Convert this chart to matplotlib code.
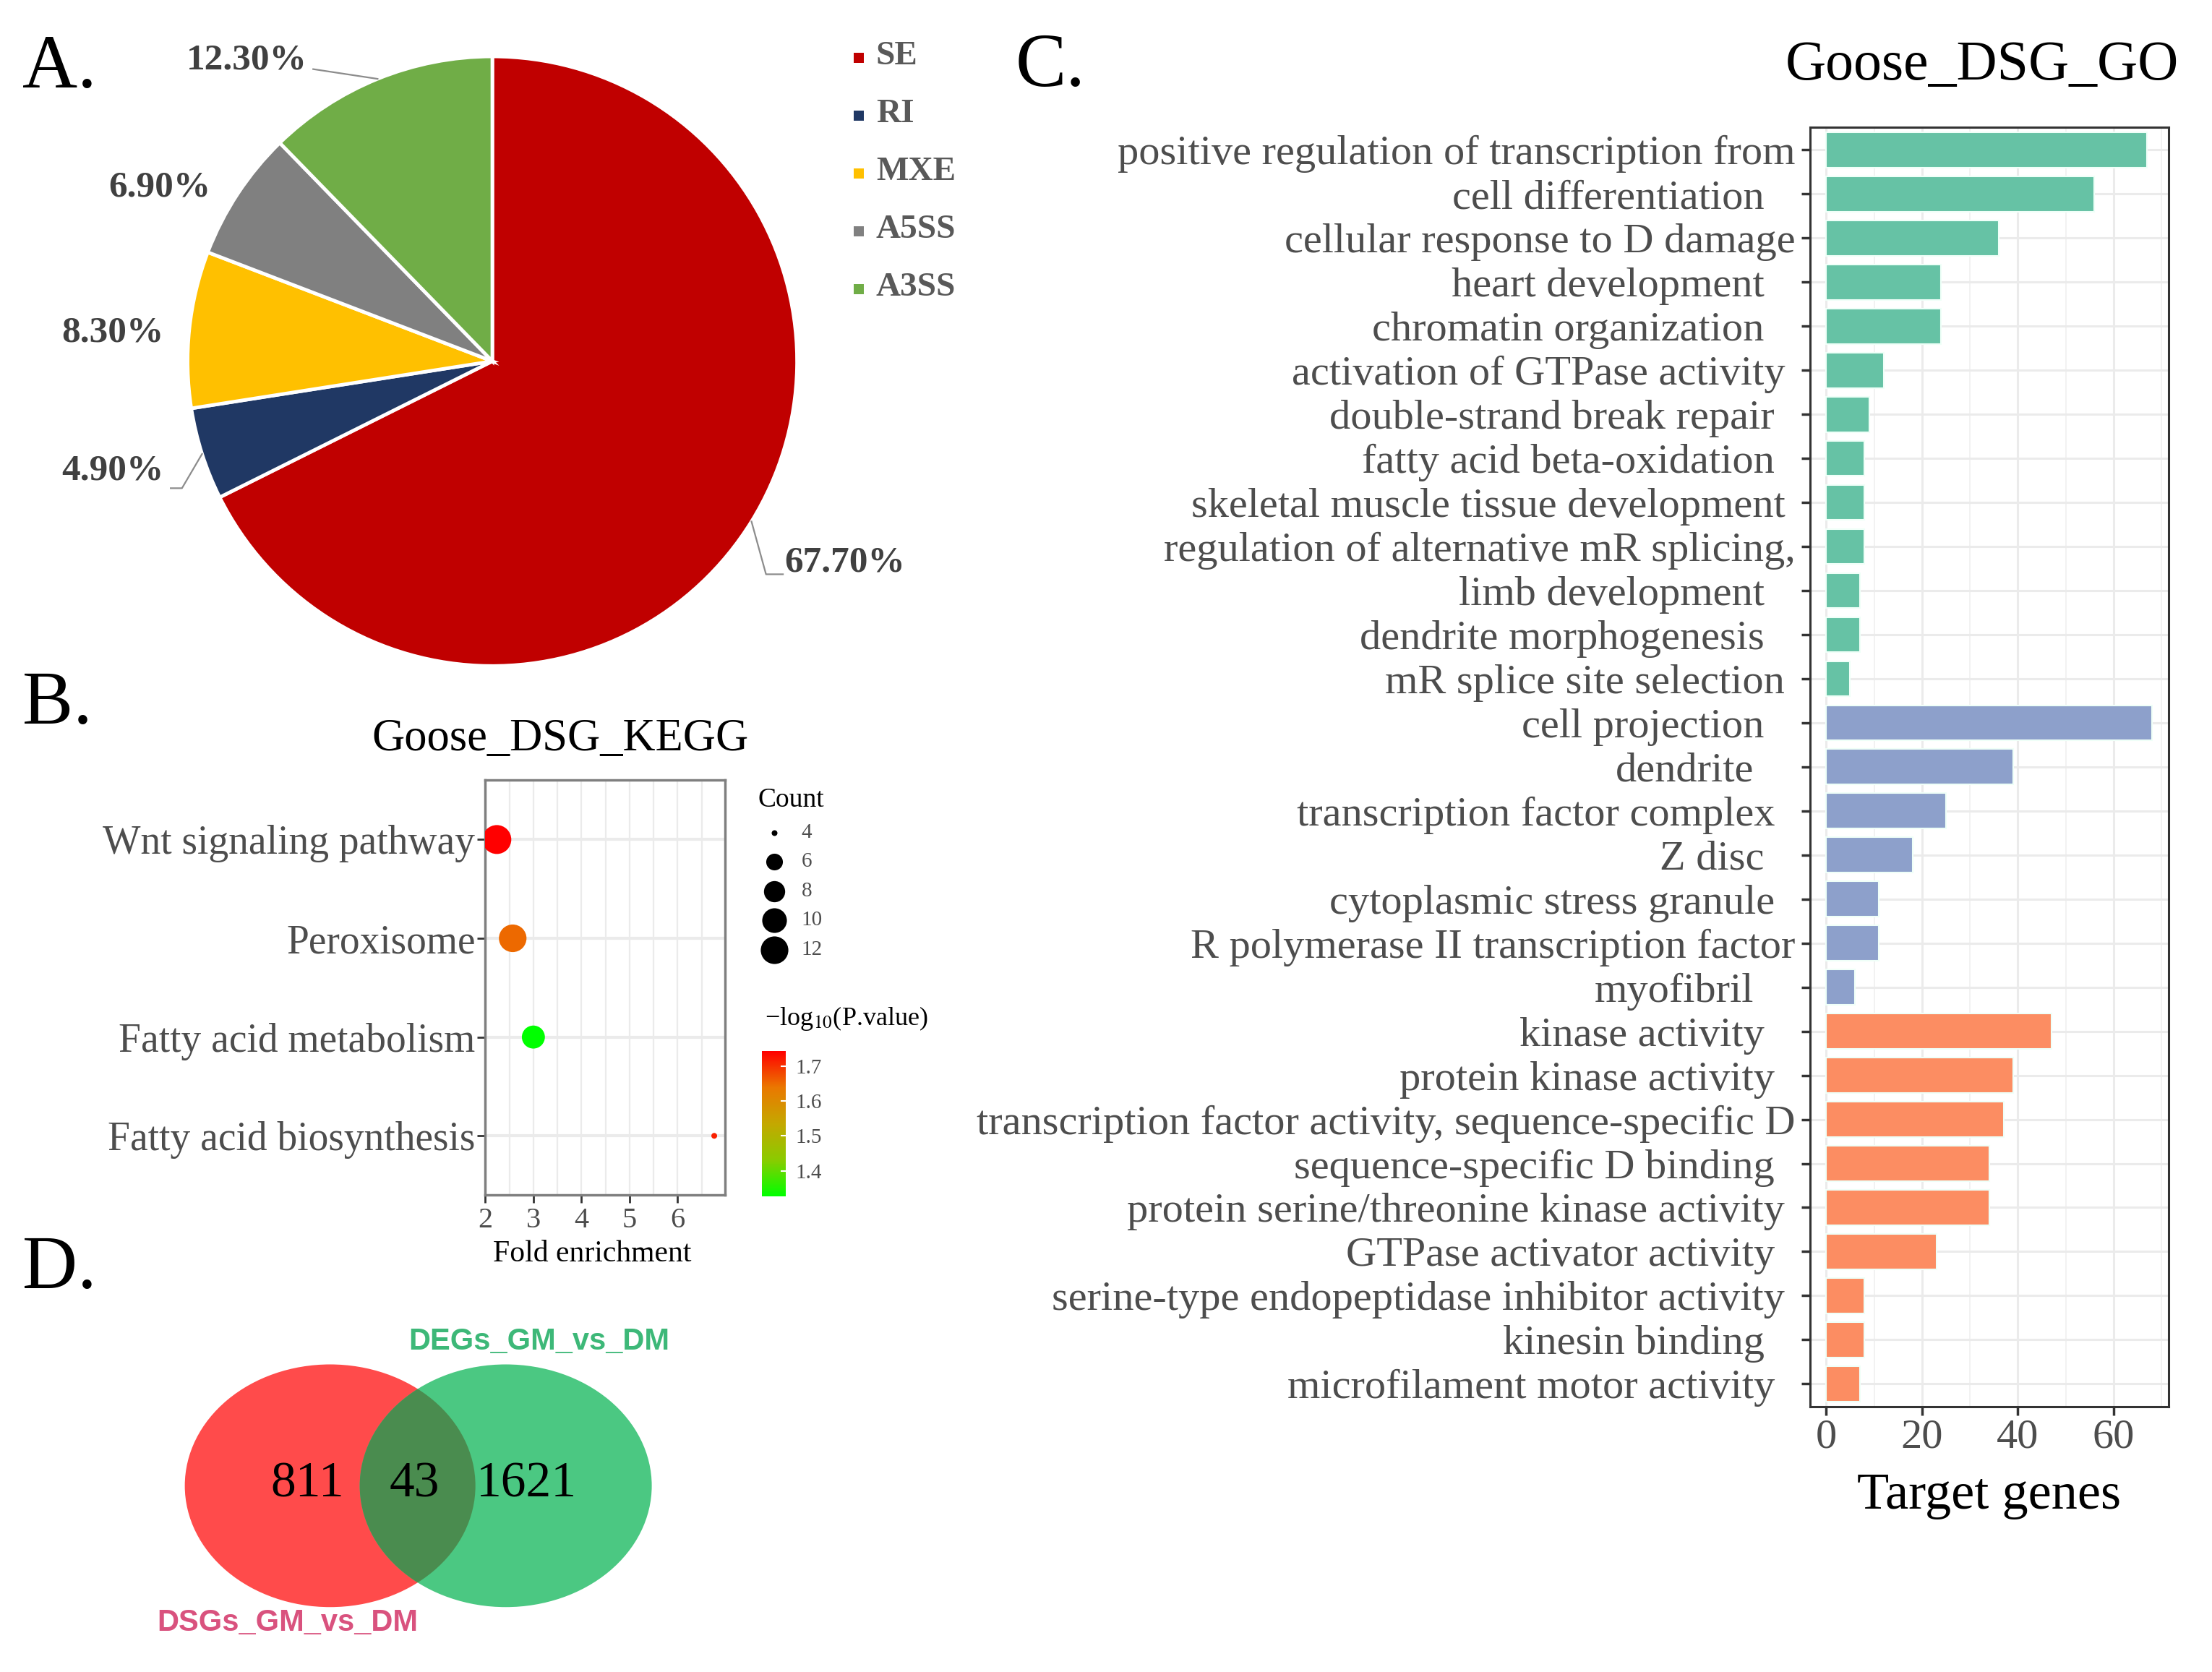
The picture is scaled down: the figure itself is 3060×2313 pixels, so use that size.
import numpy as np
import matplotlib
matplotlib.use("Agg")
import matplotlib.pyplot as plt
from matplotlib.colors import LinearSegmentedColormap
from matplotlib.patches import Ellipse
from matplotlib.ticker import MultipleLocator

# ---------------- data ----------------
splice_types = ["SE", "RI", "MXE", "A5SS", "A3SS"]
splice_pct = [67.7, 4.9, 8.3, 6.9, 12.3]

kegg_terms = ["Wnt signaling pathway", "Peroxisome", "Fatty acid metabolism",
              "Fatty acid biosynthesis"]
kegg_fold = [2.24, 2.57, 3.00, 6.76]
kegg_count = [13, 12, 9, 4]
kegg_logp = [1.742, 1.65, 1.327, 1.713]
count_breaks = [4, 6, 8, 10, 12]
logp_ticks = [1.4, 1.5, 1.6, 1.7]
fold_ticks = [2, 3, 4, 5, 6]

go_terms = [
    "positive regulation of transcription from",
    "cell differentiation",
    "cellular response to D damage",
    "heart development",
    "chromatin organization",
    "activation of GTPase activity",
    "double-strand break repair",
    "fatty acid beta-oxidation",
    "skeletal muscle tissue development",
    "regulation of alternative mR splicing,",
    "limb development",
    "dendrite morphogenesis",
    "mR splice site selection",
    "cell projection",
    "dendrite",
    "transcription factor complex",
    "Z disc",
    "cytoplasmic stress granule",
    "R polymerase II transcription factor",
    "myofibril",
    "kinase activity",
    "protein kinase activity",
    "transcription factor activity, sequence-specific D",
    "sequence-specific D binding",
    "protein serine/threonine kinase activity",
    "GTPase activator activity",
    "serine-type endopeptidase inhibitor activity",
    "kinesin binding",
    "microfilament motor activity",
]
go_counts = [67, 56, 36, 24, 24, 12, 9, 8, 8, 8, 7, 7, 5,
             68, 39, 25, 18, 11, 11, 6,
             47, 39, 37, 34, 34, 23, 8, 8, 7]
go_category = ["BP"] * 13 + ["CC"] * 7 + ["MF"] * 9
go_ticks = [0, 20, 40, 60]

venn_names = ["DSGs_GM_vs_DM", "DEGs_GM_vs_DM"]
venn_counts = [811, 43, 1621]  # only A, both, only B

# ---------------- style / layout ----------------
plt.rcParams["font.family"] = ["Liberation Serif", "DejaVu Serif"]
plt.rcParams["mathtext.fontset"] = "stix"

pie_colors = ["#C00000", "#203864", "#FFC000", "#808080", "#70AD47"]
go_colors = {"BP": "#66C2A5", "CC": "#8DA0CB", "MF": "#FC8D62"}
cmap = LinearSegmentedColormap.from_list(
    "gr", ["#00FF00", "#8ACB00", "#C4A800", "#EA7800", "#FF0000"])
# extra label offsets (in units of one blank) for panel C tick labels
go_label_pad = [0, 3, 0, 3, 3, 1, 2, 2, 1, 0, 3, 3, 1, 3, 4, 2, 3, 2, 0, 4,
                3, 2, 0, 2, 1, 2, 1, 3, 2]

W, H = 1568.0, 1185.0  # layout grid


def box(x0, y0, x1, y1):
    return [x0 / W, 1 - y1 / H, (x1 - x0) / W, (y1 - y0) / H]


fig = plt.figure(figsize=(30.6, 23.13), dpi=100)
ov = fig.add_axes([0, 0, 1, 1])
ov.set_xlim(0, W)
ov.set_ylim(H, 0)
ov.axis("off")
ov.set_zorder(10)

GRAY = "#4D4D4D"

# panel letters
for lab, (x, y) in zip(["A.", "B.", "C.", "D."],
                       [(16, 62), (16, 513), (720, 61), (16, 913)]):
    ov.text(x, y, lab, fontsize=76, ha="left", va="baseline", color="black")

# ---------------- Panel A: pie ----------------
cx, cy, R = 349, 256, 216
axp = fig.add_axes(box(cx - R, cy - R, cx + R, cy + R))
wedges, _ = axp.pie(splice_pct, colors=pie_colors, startangle=90,
                    counterclock=False,
                    wedgeprops=dict(edgecolor="white", linewidth=3.5))
axp.set_xlim(-1, 1)
axp.set_ylim(-1, 1)
axp.set_aspect("auto")

label_pos = {"SE": (599, 399), "RI": (80, 334), "MXE": (80, 236),
             "A5SS": (113, 133), "A3SS": (175, 43)}
for w, name, v in zip(wedges, splice_types, splice_pct):
    lx, ly = label_pos[name]
    ov.text(lx, ly, f"{v:.2f}%", fontsize=37, fontweight="bold",
            color="#404040", ha="center", va="center")
    mid = np.deg2rad((w.theta1 + w.theta2) / 2)
    ex, ey = cx + R * np.cos(mid), cy - R * np.sin(mid)
    if name == "A3SS":
        ov.plot([222, ex], [49, ey], color="#8C8C8C", lw=1.6)
    elif name == "RI":
        ov.plot([121, 129, ex], [346, 346, ey], color="#8C8C8C", lw=1.6)
    elif name == "SE":
        ov.plot([555, 543, ex], [407, 407, ey], color="#8C8C8C", lw=1.6)

for i, (name, col) in enumerate(zip(splice_types, pie_colors)):
    yy = 40 + 41 * i
    ov.scatter([609], [yy + 1], marker="s", s=90, color=col, linewidths=0)
    ov.text(621, yy, name, fontsize=34, fontweight="bold", color="#595959",
            ha="left", va="center")

# ---------------- Panel B: KEGG bubble ----------------
axb = fig.add_axes(box(344, 553, 514, 847))
cmin, cmax = min(kegg_count), max(kegg_count)
dmin, dmax = 8.0, 40.0  # marker diameters in pixels


def size_of(c):
    d = dmin + (dmax - dmin) * np.sqrt((np.asarray(c, float) - cmin) / (cmax - cmin))
    return (d * 0.72) ** 2


yb = np.arange(len(kegg_terms))
sc = axb.scatter(kegg_fold, yb, s=size_of(kegg_count), c=kegg_logp, cmap=cmap,
                 vmin=min(kegg_logp), vmax=max(kegg_logp), zorder=3,
                 edgecolors="none")
fr = max(kegg_fold) - min(kegg_fold)
axb.set_xlim(min(kegg_fold) - 0.05 * fr, max(kegg_fold) + 0.05 * fr)
axb.set_ylim(len(kegg_terms) - 1 + 0.6, -0.6)
axb.set_yticks(yb, kegg_terms)
axb.set_xticks(fold_ticks)
axb.xaxis.set_minor_locator(MultipleLocator(0.5))
axb.grid(which="both", axis="x", color="#EBEBEB", lw=1.6)
axb.grid(which="major", axis="y", color="#EBEBEB", lw=3)
axb.set_axisbelow(True)
for s in axb.spines.values():
    s.set_color("#7F7F7F")
    s.set_linewidth(2.5)
axb.tick_params(axis="y", labelsize=40, labelcolor=GRAY, length=8, width=2,
                color="#333333", pad=2)
axb.tick_params(axis="x", labelsize=29, labelcolor=GRAY, length=8, width=2,
                color="#333333", pad=4)
axb.tick_params(which="minor", length=0)
ov.text(397, 524, "Goose_DSG_KEGG", fontsize=45, ha="center", va="center")
ov.text(420, 889, "Fold enrichment", fontsize=30, ha="center", va="center")

# size legend
ov.text(561, 567, "Count", fontsize=27, ha="center", va="center")
for i, b in enumerate(count_breaks):
    yy = 590 + 20.75 * i
    ov.scatter([549], [yy], s=size_of(b), color="black", linewidths=0)
    ov.text(568, yy, str(b), fontsize=21, color=GRAY, ha="left", va="center")

# colour bar
cax = fig.add_axes(box(540, 745, 557, 848))
cb = fig.colorbar(sc, cax=cax, ticks=logp_ticks)
cb.outline.set_visible(False)
cax.tick_params(labelsize=21, labelcolor=GRAY, length=5, width=1.5,
                color="white", direction="in", pad=10)
ov.text(600, 722, "\u2212log$_{10}$(P.value)", fontsize=26, ha="center",
        va="center")

# ---------------- Panel C: GO bars ----------------
axc = fig.add_axes(box(1283, 90, 1537, 997))
yc = np.arange(len(go_terms))
axc.barh(yc, go_counts, height=0.8, color=[go_colors[c] for c in go_category],
         edgecolor="#EFFFF8", linewidth=1.5, zorder=3)
m = max(go_counts)
axc.set_xlim(-0.05 * m, 1.05 * m)
axc.set_ylim(len(go_terms) - 1 + 0.52, -0.52)
axc.set_yticks(yc, go_terms)
axc.set_xticks(go_ticks)
axc.xaxis.set_minor_locator(MultipleLocator(10))
axc.grid(which="major", color="#EBEBEB", lw=2.2)
axc.grid(which="minor", axis="x", color="#F2F2F2", lw=1.4)
axc.set_axisbelow(True)
for s in axc.spines.values():
    s.set_color("#333333")
    s.set_linewidth(2.2)
axc.tick_params(axis="y", labelsize=42, labelcolor=GRAY, length=8.5, width=2.5,
                color="#333333")
axc.tick_params(axis="x", labelsize=42, labelcolor=GRAY, length=8.5, width=2.5,
                color="#333333", pad=3)
axc.tick_params(which="minor", length=0)
unit = 10.3
for tk, p in zip(axc.yaxis.get_major_ticks(), go_label_pad):
    tk.set_pad(6 + p * unit)
ov.text(1405, 47, "Goose_DSG_GO", fontsize=56, ha="center", va="center")
ov.text(1410, 1060, "Target genes", fontsize=52, ha="center", va="center")

# ---------------- Panel D: Venn ----------------
red = Ellipse((234, 1053), 206, 172, facecolor="#FF4B4B", edgecolor="none")
grn = Ellipse((358.5, 1053), 207, 172, facecolor="#4BC882", edgecolor="none")
ov.add_patch(red)
ov.add_patch(grn)
ovl = Ellipse((358.5, 1053), 207, 172, facecolor="#4A8C4F", edgecolor="none")
ov.add_patch(ovl)
ovl.set_clip_path(red)
for (x, y), v in zip([(218, 1052), (294, 1052), (373, 1052)], venn_counts):
    ov.text(x, y, str(v), fontsize=50, ha="center", va="center", color="black")
ov.text(382, 951, venn_names[1], fontsize=30, fontweight="bold",
        family="Liberation Sans", color="#3DB878", ha="center", va="center")
ov.text(204, 1150, venn_names[0], fontsize=30, fontweight="bold",
        family="Liberation Sans", color="#D9527E", ha="center", va="center")

fig.savefig("out.png", dpi=100)
